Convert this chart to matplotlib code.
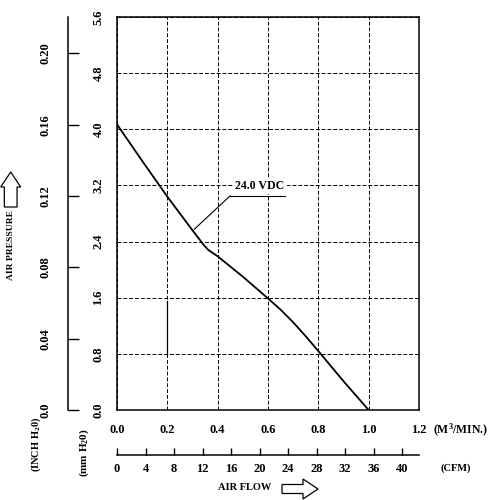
import matplotlib
matplotlib.use("Agg")
import matplotlib.pyplot as plt
from matplotlib.patches import FancyArrow

# fan curve: air flow (m3/min) vs static pressure (mm H2O)
flow = [0.0, 0.1, 0.2, 0.3, 0.33, 0.345, 0.363, 0.4, 0.5, 0.6, 0.65, 0.7, 0.75, 0.8, 0.9, 1.0]
pressure = [4.07, 3.55, 3.04, 2.56, 2.42, 2.35, 2.28, 2.19, 1.90, 1.59, 1.43, 1.25, 1.05, 0.84, 0.41, 0.0]
curve_label = "24.0 VDC"

flow_ticks = [0.0, 0.2, 0.4, 0.6, 0.8, 1.0, 1.2]
mm_ticks = [0.0, 0.8, 1.6, 2.4, 3.2, 4.0, 4.8, 5.6]
inch_ticks = [0.0, 0.04, 0.08, 0.12, 0.16, 0.20]
inch_labels = ["0.0", "0.04", "0.08", "0.12", "0.16", "0.20"]
cfm_ticks = list(range(0, 41, 4))

MM_PER_INCH = 25.4
CFM_PER_M3MIN = 35.3147

plt.rcParams["font.family"] = "Liberation Serif"
plt.rcParams["font.weight"] = "bold"
plt.rcParams["font.size"] = 9
plt.rcParams["mathtext.fontset"] = "custom"
plt.rcParams["mathtext.bf"] = "Liberation Serif:bold"
plt.rcParams["mathtext.rm"] = "Liberation Serif:bold"
plt.rcParams["mathtext.default"] = "bf"

fig = plt.figure(figsize=(5.04, 5.0), dpi=100)
W, H = 504.0, 500.0
left, right, top, bottom = 117, 419, 17, 410
box = [left / W, 1 - bottom / H, (right - left) / W, (bottom - top) / H]

# main plot
ax = fig.add_axes(box)
ax.set_xlim(0, 1.2)
ax.set_ylim(0, 5.6)
ax.set_xticks(flow_ticks)
ax.set_yticks(mm_ticks)
ax.set_xticklabels([f"{v:.1f}" for v in flow_ticks])
ax.set_yticklabels([f"{v:.1f}" for v in mm_ticks], rotation=90, va="center")
ax.tick_params(length=0)
ax.tick_params(axis="x", pad=10)
ax.tick_params(axis="y", pad=9)
ax.grid(True, color="black", linestyle=(0, (4, 2)), linewidth=0.7)
for s in ax.spines.values():
    s.set_linewidth(1.1)

ax.plot(flow, pressure, color="black", linewidth=1.3)
ax.plot([0.2, 0.2], [0.8, 1.55], color="black", linewidth=0.9)

# curve label with leader line
ax.text(0.47, 3.19, curve_label, ha="left", va="center", fontsize=8.6,
        bbox=dict(facecolor="white", edgecolor="none", pad=1.5))
ax.plot([0.449, 0.667], [3.05, 3.05], color="black", linewidth=0.8)
ax.plot([0.307, 0.449], [2.575, 3.05], color="black", linewidth=0.8)

# inch H2O scale
ax_in = fig.add_axes([68 / W, box[1], 0.0001, box[3]])
ax_in.set_ylim(0, 5.6 / MM_PER_INCH)
ax_in.set_yticks(inch_ticks)
ax_in.set_yticklabels(inch_labels, rotation=90, va="center")
ax_in.set_xticks([])
ax_in.tick_params(axis="y", direction="in", length=8, width=1, pad=12)
for k in ["top", "right", "bottom"]:
    ax_in.spines[k].set_visible(False)
ax_in.spines["left"].set_linewidth(1.1)
ax_in.patch.set_visible(False)

# CFM scale
ax_cfm = fig.add_axes([box[0], 1 - 455 / H, box[2], 0.0001])
ax_cfm.set_xlim(0, 1.2 * CFM_PER_M3MIN)
ax_cfm.set_xticks(cfm_ticks)
ax_cfm.set_xticklabels([str(v) for v in cfm_ticks])
ax_cfm.set_yticks([])
ax_cfm.tick_params(axis="x", direction="in", length=5, width=1, pad=6)
for k in ["top", "right", "left"]:
    ax_cfm.spines[k].set_visible(False)
ax_cfm.spines["bottom"].set_linewidth(1.1)
ax_cfm.patch.set_visible(False)

# axis titles
fig.text(461 / W, 1 - 430 / H, "(M$^3$/MIN.)", ha="center", va="center", fontsize=8.5)
fig.text(456 / W, 1 - 468 / H, "(CFM)", ha="center", va="center", fontsize=7.5)
fig.text(245 / W, 1 - 488 / H, "AIR FLOW", ha="center", va="center", fontsize=7.5)
fig.text(11 / W, 1 - 245 / H, "AIR PRESSURE", rotation=90, ha="center", va="center", fontsize=6.8)
fig.text(36 / W, 1 - 444 / H, "(INCH H$_2$0)", rotation=90, ha="center", va="center", fontsize=7.5)
fig.text(84 / W, 1 - 453 / H, "(mm H$_2$0)", rotation=90, ha="center", va="center", fontsize=8)

# hollow arrows
fig.patches.append(FancyArrow(282 / W, 1 - 489 / H, 36 / W, 0, width=9 / H,
                              head_width=20 / H, head_length=15 / W,
                              length_includes_head=True, facecolor="white",
                              edgecolor="black", linewidth=0.9,
                              transform=fig.transFigure))
fig.patches.append(FancyArrow(10.7 / W, 1 - 207 / H, 0, 35 / H, width=12.7 / W,
                              head_width=20 / W, head_length=15 / H,
                              length_includes_head=True, facecolor="white",
                              edgecolor="black", linewidth=0.9,
                              transform=fig.transFigure))

fig.savefig("out.png", dpi=100)
